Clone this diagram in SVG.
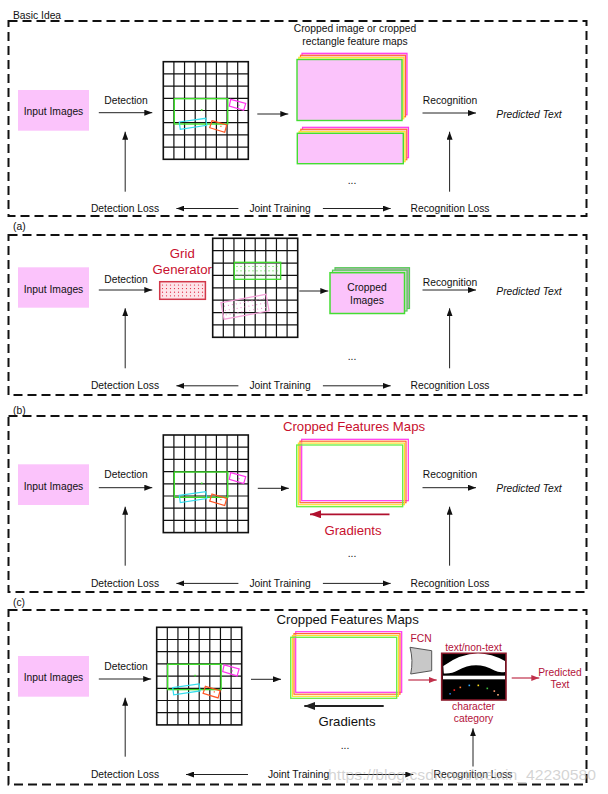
<svg xmlns="http://www.w3.org/2000/svg" xmlns:xlink="http://www.w3.org/1999/xlink" width="608" height="794" viewBox="0 0 608 794">
<style>
text{font-family:"Liberation Sans",Arial,sans-serif;font-size:10.3px;fill:#111}
.c{text-anchor:middle}
.it{font-style:italic}
.red{fill:#c8102e}
.dred{fill:#b3123a}
.big{font-size:13.2px}
.dash{fill:none;stroke:#111;stroke-width:2;stroke-dasharray:9 5}
.ar{stroke:#222;stroke-width:1;fill:none;marker-end:url(#ah)}
.arr{stroke:#c0304a;stroke-width:1.2;fill:none;marker-end:url(#ahr)}
.pink{fill:#fbc3fb}
.gl{stroke:#111;stroke-width:1.2}
.go{fill:#fff;stroke:#111;stroke-width:1.6}
</style>
<defs>
<marker id="ah" markerWidth="8" markerHeight="6" refX="8" refY="3" orient="auto" markerUnits="userSpaceOnUse"><path d="M0,0 L8,3 L0,6 Z" fill="#111"/></marker>
<marker id="ahr" markerWidth="8" markerHeight="6" refX="8" refY="3" orient="auto" markerUnits="userSpaceOnUse"><path d="M0,0 L8,3 L0,6 Z" fill="#c0304a"/></marker>
<marker id="ahb" markerWidth="11" markerHeight="8" refX="11" refY="4" orient="auto" markerUnits="userSpaceOnUse"><path d="M0,0 L11,4 L0,8 Z" fill="#222"/></marker>
<marker id="ahbr" markerWidth="11" markerHeight="8" refX="11" refY="4" orient="auto" markerUnits="userSpaceOnUse"><path d="M0,0 L11,4 L0,8 Z" fill="#b0102e"/></marker>
<g id="grid">
<rect class="go" x="0" y="0" width="85" height="97.6"/>
<path class="gl" d="M10.6,0V97.6M21.25,0V97.6M31.9,0V97.6M42.5,0V97.6M53.1,0V97.6M63.75,0V97.6M74.4,0V97.6M0,12.2H85M0,24.4H85M0,36.6H85M0,48.8H85M0,61H85M0,73.2H85M0,85.4H85"/>
</g>
<g id="det">
<use xlink:href="#grid"/>
<rect x="11" y="37" width="53.4" height="25.3" fill="none" stroke="#3ddc2a" stroke-width="1.4"/>
<rect x="37.6" y="47.5" width="1.6" height="1.6" fill="#3ddc2a"/>
<polygon points="67.4,37.6 82.4,41.6 80.4,48.6 66,44.3" fill="none" stroke="#ff33ee" stroke-width="1.2"/>
<rect x="75" y="43" width="1.2" height="1.2" fill="#ff33ee"/>
<polygon points="16,60.3 42.4,56.6 43.4,63.6 17,67.6" fill="none" stroke="#33ddee" stroke-width="1.2"/>
<polygon points="48.7,59 63.4,63.3 61.4,70.6 46.4,66" fill="none" stroke="#ff5522" stroke-width="1.2"/>
<rect x="57" y="64" width="1.2" height="1.2" fill="#ff5522"/>
</g>
<g id="dotrow">
<circle cx="0" cy="0" r="0.6"/><circle cx="4" cy="0" r="0.6"/><circle cx="8" cy="0" r="0.6"/><circle cx="12" cy="0" r="0.6"/><circle cx="16" cy="0" r="0.6"/><circle cx="20" cy="0" r="0.6"/><circle cx="24" cy="0" r="0.6"/><circle cx="28" cy="0" r="0.6"/><circle cx="32" cy="0" r="0.6"/><circle cx="36" cy="0" r="0.6"/><circle cx="40" cy="0" r="0.6"/>
</g>
</defs>
<rect width="608" height="794" fill="#fff"/>

<!-- Section Basic Idea -->
<g id="sec0">
<text x="13" y="18.7">Basic Idea</text>
<rect class="dash" x="8.5" y="21" width="578" height="195"/>
<g id="s0-input"><rect class="pink" x="18" y="90" width="71" height="40.7"/><text class="c" x="53.5" y="115.4">Input Images</text></g>
<g id="s0-grid"><use xlink:href="#det" transform="translate(163.3,61.7)"/></g>
<g id="s0-crops">
<text class="c" x="355" y="32">Cropped image or cropped</text>
<text class="c" x="355" y="45.4">rectangle feature maps</text>
<rect x="302" y="53.3" width="105" height="61.5" fill="#fbc3fb" stroke="#ff33ee" stroke-width="1.2"/>
<rect x="300.5" y="55.3" width="105" height="61.5" fill="#fbc3fb" stroke="#ff6a30" stroke-width="1.2"/>
<rect x="298.8" y="57.3" width="105" height="61.5" fill="#fff39a" stroke="#ffe030" stroke-width="1.2"/>
<rect x="297" y="59.5" width="105" height="61" fill="#fbc3fb" stroke="#44dd33" stroke-width="1.4"/>
<rect x="302.5" y="127.3" width="106" height="30.4" fill="#fbc3fb" stroke="#ff33ee" stroke-width="1.2"/>
<rect x="300.8" y="129.3" width="106" height="30.4" fill="#fbc3fb" stroke="#ff6a30" stroke-width="1.2"/>
<rect x="299.1" y="131.3" width="106" height="30.4" fill="#fff39a" stroke="#ffe030" stroke-width="1.2"/>
<rect x="297.3" y="133.3" width="106" height="30.4" fill="#fbc3fb" stroke="#44dd33" stroke-width="1.4"/>
</g>
<text class="c" x="126" y="103.7">Detection</text>
<text class="c" x="450" y="103.7">Recognition</text>
<text class="c it" x="529" y="118">Predicted Text</text>
<text class="c" x="352" y="183.5">...</text>
<text class="c" x="125" y="212">Detection Loss</text>
<text class="c" x="280" y="212">Joint Training</text>
<text class="c" x="450" y="212">Recognition Loss</text>
</g>

<!-- Section (a) -->
<g id="secA">
<text x="13" y="230">(a)</text>
<rect class="dash" x="8.5" y="235" width="578" height="160"/>
<g id="a-input"><rect class="pink" x="18" y="267.3" width="71" height="40.4"/><text class="c" x="53.5" y="292.7">Input Images</text></g>
<g id="a-gridgen">
<text class="c big red" x="182.3" y="257.7">Grid</text>
<text class="c big red" x="182.3" y="273.7">Generator</text>
<rect x="159.7" y="281.7" width="45.7" height="17.6" fill="#fde4e8" stroke="#d2384a" stroke-width="1.5"/>
<g fill="#e0203a"><use xlink:href="#dotrow" transform="translate(162.5,285)"/><use xlink:href="#dotrow" transform="translate(162.5,288.6)"/><use xlink:href="#dotrow" transform="translate(162.5,292.2)"/><use xlink:href="#dotrow" transform="translate(162.5,295.8)"/></g>
</g>
<g id="a-grid">
<use xlink:href="#grid" transform="translate(212.7,238.3) scale(1,1.0143)"/>
<rect x="234.3" y="262.3" width="46.4" height="17" fill="#f0fff0" fill-opacity="0.3" stroke="#3ddc2a" stroke-width="1.3"/>
<g fill="#3ddc2a"><use xlink:href="#dotrow" transform="translate(237,266.5)"/><use xlink:href="#dotrow" transform="translate(237,270.8)"/><use xlink:href="#dotrow" transform="translate(237,275.1)"/></g>
<g transform="translate(245,306.8) rotate(-10.6)">
<rect x="-22.9" y="-8.45" width="45.8" height="16.9" fill="none" stroke="#f4a0d8" stroke-width="1.2"/>
<g fill="#ee88cc"><use xlink:href="#dotrow" transform="translate(-20,-4.5)"/><use xlink:href="#dotrow" transform="translate(-20,0)"/><use xlink:href="#dotrow" transform="translate(-20,4.5)"/></g>
</g>
</g>
<g id="a-cropped">
<rect x="335" y="267.7" width="74.5" height="40.8" fill="#b0b0b0" stroke="#55cc55" stroke-width="1.2"/>
<rect x="332.5" y="270.2" width="74.5" height="40.8" fill="#d8d8d8" stroke="#55cc55" stroke-width="1.2"/>
<rect x="330" y="272.7" width="74.5" height="40.8" fill="#fbc3fb" stroke="#44dd33" stroke-width="1.5"/>
<text class="c" x="367" y="291">Cropped</text>
<text class="c" x="367" y="303.6">Images</text>
</g>
<text class="c" x="126" y="283">Detection</text>
<text class="c" x="450" y="286.4">Recognition</text>
<text class="c it" x="529" y="295.4">Predicted Text</text>
<text class="c" x="352" y="360">...</text>
<text class="c" x="125" y="389.4">Detection Loss</text>
<text class="c" x="280" y="389.4">Joint Training</text>
<text class="c" x="450" y="389.4">Recognition Loss</text>
</g>

<!-- Section (b) -->
<g id="secB">
<text x="13" y="413.5">(b)</text>
<rect class="dash" x="8.5" y="416" width="578" height="176"/>
<g id="b-input"><rect class="pink" x="18" y="464.3" width="71" height="40.7"/><text class="c" x="53.5" y="489.7">Input Images</text></g>
<g id="b-grid"><use xlink:href="#det" transform="translate(163.3,435)"/></g>
<g id="b-crops">
<text class="c big red" x="354" y="431.4">Cropped Features Maps</text>
<rect x="301.7" y="439.3" width="106.6" height="61.4" fill="none" stroke="#ff33ee" stroke-width="1.2"/>
<rect x="300" y="441.2" width="106" height="61.5" fill="none" stroke="#ff6a30" stroke-width="1.2"/>
<rect x="298.4" y="443.1" width="106" height="61.6" fill="none" stroke="#ffe030" stroke-width="1.2"/>
<rect x="296.7" y="445" width="106" height="61.7" fill="none" stroke="#66ee44" stroke-width="1.3"/>
<text class="c big red" x="353" y="534.7">Gradients</text>
</g>
<text class="c" x="126" y="478">Detection</text>
<text class="c" x="450" y="478">Recognition</text>
<text class="c it" x="529" y="492.4">Predicted Text</text>
<text class="c" x="352" y="556.5">...</text>
<text class="c" x="125" y="587">Detection Loss</text>
<text class="c" x="280" y="587">Joint Training</text>
<text class="c" x="450" y="587">Recognition Loss</text>
</g>

<!-- Section (c) -->
<g id="secC">
<text x="13" y="606">(c)</text>
<rect class="dash" x="8.5" y="610" width="578" height="174.5"/>
<g id="c-input"><rect class="pink" x="18" y="656" width="71" height="40.7"/><text class="c" x="53.5" y="681.4">Input Images</text></g>
<g id="c-grid"><use xlink:href="#det" transform="translate(156.7,627.3)"/></g>
<g id="c-crops">
<text class="c big" x="347.7" y="623.7">Cropped Features Maps</text>
<rect x="295.7" y="631.7" width="106" height="60.6" fill="none" stroke="#ff33ee" stroke-width="1.2"/>
<rect x="294" y="633.6" width="106" height="60.6" fill="none" stroke="#ff6a30" stroke-width="1.2"/>
<rect x="292.4" y="635.5" width="106" height="60.8" fill="none" stroke="#ffe030" stroke-width="1.2"/>
<rect x="290.7" y="637.3" width="106" height="61" fill="none" stroke="#66ee44" stroke-width="1.3"/>
<text class="c big" x="347" y="725.7">Gradients</text>
</g>
<g id="c-fcn">
<text class="c dred" x="421" y="642">FCN</text>
<path d="M410,647.3 Q413.5,660.5 410.7,674 L431.7,670.7 L431.7,650.7 Z" fill="#c8c8c8" stroke="#555" stroke-width="1"/>
</g>
<g id="c-out">
<text class="c dred" x="473.5" y="651">text/non-text</text>
<rect x="441.7" y="653.3" width="64.3" height="46.7" fill="#000" stroke="#8b1a2b" stroke-width="1.6"/>
<path d="M443.3,666 Q474,644 505,661 L505,672 Q499,673 494.5,670.5 Q476,660 457.5,670.5 Q452,674 443.8,673.5 Z" fill="#fff"/>
<rect x="443" y="675.7" width="62" height="3.6" fill="#fff"/>
<rect x="449.3" y="693" width="1.6" height="1.6" fill="#2a6fd0"/>
<rect x="453.5" y="689.3" width="1.6" height="1.6" fill="#ff2020"/>
<rect x="459.5" y="686.6" width="1.6" height="1.6" fill="#ff7a30"/>
<rect x="468.5" y="684.6" width="1.6" height="1.6" fill="#30a8ff"/>
<rect x="477.5" y="684.6" width="1.6" height="1.6" fill="#ffe020"/>
<rect x="486.5" y="687.6" width="1.6" height="1.6" fill="#40c040"/>
<rect x="493.5" y="690.3" width="1.6" height="1.6" fill="#ff9a70"/>
<rect x="497.2" y="694" width="1.6" height="1.6" fill="#ffb080"/>
<text class="c dred" x="473.5" y="710">character</text>
<text class="c dred" x="473.5" y="722">category</text>
</g>
<text class="c dred" x="560" y="675.5">Predicted</text>
<text class="c dred" x="560" y="688">Text</text>
<text class="c" x="126" y="670.4">Detection</text>
<text class="c" x="345" y="748.5">...</text>
<text class="c" x="125" y="778">Detection Loss</text>
<text class="c" x="298.5" y="778">Joint Training</text>
<text class="c" x="473" y="778">Recognition Loss</text>
</g>

<!-- Connectors -->
<g id="connectors">
<line class="ar" x1="98.8" y1="112.7" x2="152.3" y2="112.7"/>
<line class="ar" x1="257.3" y1="114" x2="288.3" y2="114"/>
<line class="ar" x1="422.5" y1="113" x2="476" y2="113"/>
<line class="ar" x1="125.2" y1="191.7" x2="125.2" y2="131.7"/>
<line class="ar" x1="449.6" y1="191.7" x2="449.6" y2="131.7"/>
<line class="ar" x1="238.4" y1="208.5" x2="176.4" y2="208.5"/>
<line class="ar" x1="322.9" y1="208.5" x2="390.7" y2="208.5"/>

<line class="ar" x1="98.8" y1="290" x2="152.3" y2="290"/>
<line class="ar" x1="299.3" y1="291" x2="328.3" y2="291"/>
<line class="ar" x1="422.5" y1="290" x2="476" y2="290"/>
<line class="ar" x1="125.2" y1="368.3" x2="125.2" y2="308.3"/>
<line class="ar" x1="449.6" y1="368.3" x2="449.6" y2="308.3"/>
<line class="ar" x1="238.4" y1="385.8" x2="176.4" y2="385.8"/>
<line class="ar" x1="322.9" y1="385.8" x2="390.7" y2="385.8"/>

<line class="ar" x1="98.8" y1="487.7" x2="152.3" y2="487.7"/>
<line class="ar" x1="257.8" y1="488.3" x2="288.8" y2="488.3"/>
<line class="ar" x1="422.5" y1="487.7" x2="476" y2="487.7"/>
<line x1="389.5" y1="514.3" x2="310" y2="514.3" stroke="#b0102e" stroke-width="1.8" marker-end="url(#ahbr)"/>
<line class="ar" x1="125.2" y1="565.7" x2="125.2" y2="506.7"/>
<line class="ar" x1="449.6" y1="565.7" x2="449.6" y2="506.7"/>
<line class="ar" x1="238.4" y1="583.4" x2="176.4" y2="583.4"/>
<line class="ar" x1="322.9" y1="583.4" x2="390.7" y2="583.4"/>

<line class="ar" x1="98.8" y1="679" x2="151.2" y2="679"/>
<line class="ar" x1="251" y1="679.3" x2="281" y2="679.3"/>
<line x1="383.7" y1="706" x2="304.3" y2="706" stroke="#222" stroke-width="1.8" marker-end="url(#ahb)"/>
<line class="arr" x1="408.3" y1="680" x2="436.7" y2="680"/>
<line class="arr" x1="511.7" y1="678" x2="539.3" y2="678"/>
<line class="ar" x1="125.2" y1="756.7" x2="125.2" y2="697.7"/>
<line class="ar" x1="473" y1="766.5" x2="473" y2="728.3"/>
<line class="ar" x1="248" y1="774.5" x2="186" y2="774.5"/>
<line class="ar" x1="346.7" y1="774.5" x2="413.3" y2="774.5"/>
</g>

<text x="328" y="780" style="font-size:15px;fill:#b8b8b8;fill-opacity:0.6" textLength="268" lengthAdjust="spacingAndGlyphs">https://blog.csdn.net/weixin_42230580</text>
</svg>
